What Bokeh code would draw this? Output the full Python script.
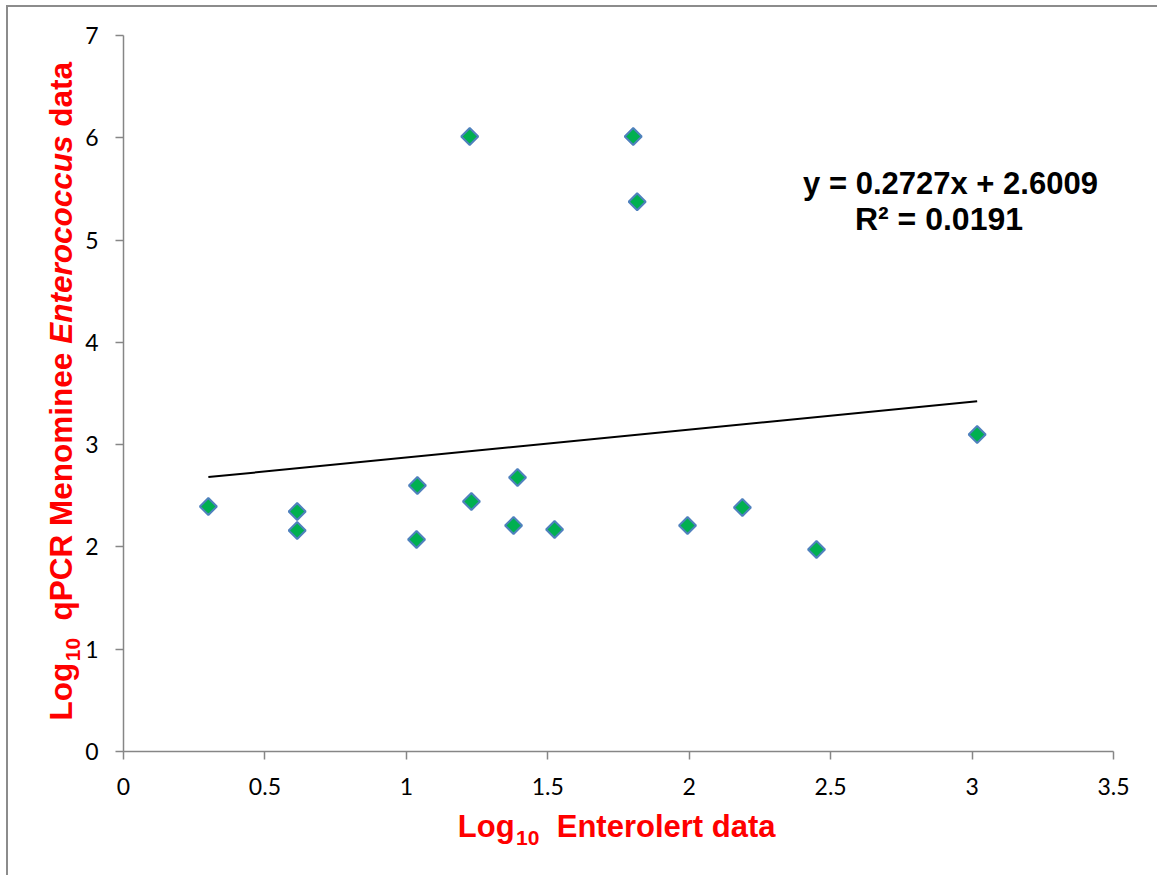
import math
from bokeh.plotting import figure
from bokeh.models import Range1d, FixedTicker, Label, ColumnDataSource
from bokeh.embed import file_html
from bokeh.resources import INLINE

# ---------------- data ----------------
enterolert_log = [0.30, 0.614, 0.614, 1.039, 1.036, 1.224, 1.230, 1.379, 1.393,
                  1.524, 1.802, 1.816, 1.994, 2.188, 2.450, 3.018]
qpcr_log = [2.395, 2.346, 2.160, 2.600, 2.073, 6.012, 2.444, 2.209, 2.679,
            2.170, 6.012, 5.374, 2.209, 2.385, 1.975, 3.099]

trend_slope = 0.2727
trend_intercept = 2.6009
eq_text = "y = 0.2727x + 2.6009"
r2_text = "R\u00b2 = 0.0191"

x_ticks = [0, 0.5, 1, 1.5, 2, 2.5, 3, 3.5]
x_tick_labels = ["0", "0.5", "1", "1.5", "2", "2.5", "3", "3.5"]
y_ticks = [0, 1, 2, 3, 4, 5, 6, 7]
y_tick_labels = ["0", "1", "2", "3", "4", "5", "6", "7"]

x_title_parts = ["Log", "10", "  Enterolert data"]
y_title_parts = ["Log", "10", "  qPCR Menominee ", "Enterococcus", " data"]

# ---------------- layout ----------------
BW = 2              # css border width
ML, MT = 6, 5       # css margins
CL, CT = ML + BW, MT + BW   # canvas origin in page pixels
X0, X1, Y0, Y1 = 0, 3.5, 0, 7
FL, FT, FW, FH = 123, 35, 990, 716   # frame in page pixels
SHIFT = 0.35        # anchor-to-baseline correction, fraction of font size

def sx(px):
    return X0 + (px - FL) / FW * (X1 - X0)

def sy(py):
    return Y0 + (FT + FH - py) / FH * (Y1 - Y0)

W = {' ': 278, 'L': 611, 'o': 611, 'g': 611, '1': 556, '0': 556, 'E': 667,
     'n': 611, 't': 333, 'e': 556, 'r': 389, 'l': 278, 'd': 611, 'a': 556,
     'q': 611, 'P': 667, 'C': 722, 'R': 722, 'M': 833, 'm': 889, 'i': 278,
     'c': 556, 'u': 611, 's': 556}

def tw(s, size):
    return sum(W.get(c, 556) for c in s) / 1000.0 * size

def keep_spaces(s):
    # SVG collapses leading/trailing blanks; use no-break spaces there
    core = s.strip(" ")
    lead = len(s) - len(s.lstrip(" "))
    trail = len(s) - len(s.rstrip(" "))
    return "\u00a0" * lead + core + "\u00a0" * trail

p = figure(frame_width=FW, frame_height=FH, output_backend="svg", toolbar_location=None,
           x_range=Range1d(X0, X1), y_range=Range1d(Y0, Y1),
           min_border_left=FL - CL, min_border_top=FT - CT,
           min_border_right=36, min_border_bottom=124)
p.styles = {"border-left": f"{BW}px solid #8c8c8c", "border-top": f"{BW}px solid #8c8c8c",
            "margin-left": f"{ML}px", "margin-top": f"{MT}px"}
p.xgrid.visible = False
p.ygrid.visible = False
p.outline_line_color = None
p.background_fill_color = "white"
p.border_fill_color = "white"

for ax, ticks, labels, standoff in ((p.xaxis[0], x_ticks, x_tick_labels, 18),
                                    (p.yaxis[0], y_ticks, y_tick_labels, 17)):
    ax.ticker = FixedTicker(ticks=ticks)
    ax.major_label_overrides = {t: l for t, l in zip(ticks, labels)}
    ax.axis_line_color = "#868686"
    ax.axis_line_width = 1.5
    ax.major_tick_line_color = "#868686"
    ax.major_tick_line_width = 1.5
    ax.major_tick_out = 8
    ax.major_tick_in = 0
    ax.minor_tick_line_color = None
    ax.major_label_text_font = "Lato"
    ax.major_label_text_font_size = "23px"
    ax.major_label_text_color = "black"
    ax.major_label_standoff = standoff

# trendline
tx = [min(enterolert_log), max(enterolert_log)]
ty = [trend_slope * v + trend_intercept for v in tx]
p.line(tx, ty, line_color="black", line_width=2)

src = ColumnDataSource(dict(x=enterolert_log, y=qpcr_log))
p.scatter("x", "y", source=src, marker="square", angle=math.pi / 4, size=12,
          fill_color="#00B050", line_color="#4F81BD", line_width=2)

# equation
p.add_layout(Label(x=sx(950), y=sy(194.3 - SHIFT * 31), text=eq_text, text_font="Liberation Sans",
                   text_font_style="bold", text_font_size="31px", text_color="black",
                   text_align="center", text_baseline="alphabetic"))
p.add_layout(Label(x=sx(938.5), y=sy(230 - SHIFT * 32), text=r2_text, text_font="Liberation Sans",
                   text_font_style="bold", text_font_size="32px", text_color="black",
                   text_align="center", text_baseline="alphabetic"))

RED = "#FF0000"
outside = []
# x title
xs = 457.3
base = 836.7
big, small = 31, 21
outside.append(Label(x=sx(xs), y=sy(base - SHIFT * big), text=keep_spaces(x_title_parts[0]),
                     text_font="Liberation Sans", text_font_style="bold",
                     text_font_size=f"{big}px", text_color=RED,
                     text_align="left", text_baseline="alphabetic"))
xs += tw(x_title_parts[0], big) + 1.5
outside.append(Label(x=sx(xs), y=sy(base + 8 - SHIFT * small), text=keep_spaces(x_title_parts[1]),
                     text_font="Liberation Sans", text_font_style="bold",
                     text_font_size=f"{small}px", text_color=RED,
                     text_align="left", text_baseline="alphabetic"))
xs += tw(x_title_parts[1], small)
outside.append(Label(x=sx(xs), y=sy(base - SHIFT * big), text=keep_spaces(x_title_parts[2]),
                     text_font="Liberation Sans", text_font_style="bold",
                     text_font_size=f"{big}px", text_color=RED,
                     text_align="left", text_baseline="alphabetic"))

# y title (rotated, reading bottom to top)
bx = 71.7
ys = 720.0
ybig = 31.5
styles = ["bold", "bold", "bold", "bold italic", "bold"]
for i, part in enumerate(y_title_parts):
    size = small if i == 1 else ybig
    off = 8 if i == 1 else 0
    outside.append(Label(x=sx(bx + off - SHIFT * size), y=sy(ys), text=keep_spaces(part),
                         text_font="Liberation Sans", text_font_style=styles[i],
                         text_font_size=f"{size}px", text_color=RED,
                         angle=math.pi / 2, text_align="left", text_baseline="alphabetic"))
    ys -= tw(part, size) + (1.5 if i == 0 else 0)

# side-panel annotations are not clipped to the frame
for lab in outside:
    p.add_layout(lab, "right")

open("out.html", "w").write(file_html(p, INLINE))
